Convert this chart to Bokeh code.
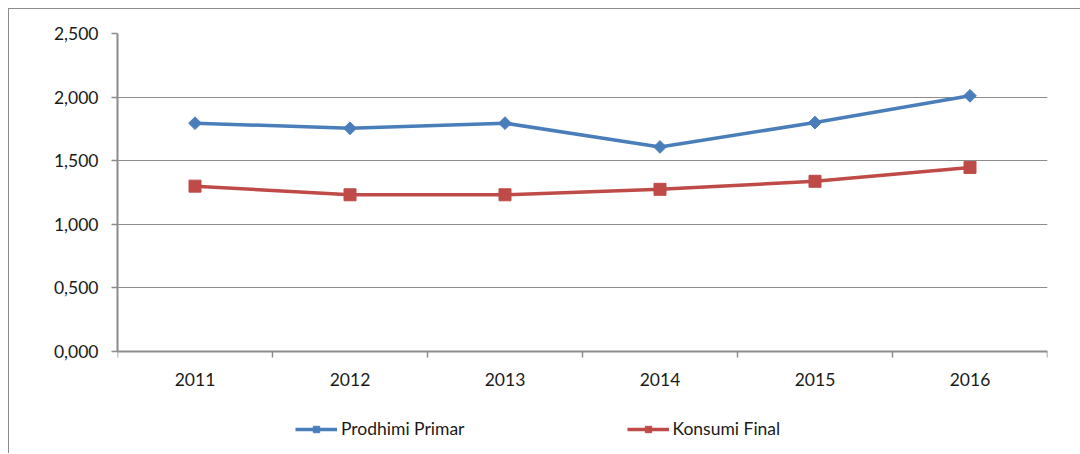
import numpy as np
from bokeh.plotting import figure
from bokeh.models import FixedTicker, Range1d, Legend, LegendItem
from bokeh.embed import file_html
from bokeh.resources import INLINE

years = ["2011", "2012", "2013", "2014", "2015", "2016"]
prodhimi_primar = [1795, 1755, 1795, 1608, 1800, 2010]
konsumi_final = [1300, 1232, 1232, 1275, 1338, 1447]
y_ticks = [0, 500, 1000, 1500, 2000, 2500]
y_tick_labels = ["0,000", "0,500", "1,000", "1,500", "2,000", "2,500"]

BLUE = "#4A7EBB"
RED = "#BE4B48"
GRID = "#8C8C8C"
FONT = "Lato"
FS = "17.5px"

xs = [i + 0.5 for i in range(len(years))]

# plot area: 318 px for the 0..2500 band, plus 100 px below it for the category labels and legend
PLOT_PX = 318
BELOW_PX = 100
y_top = 2500
y_bottom = -y_top * BELOW_PX / PLOT_PX

p = figure(frame_width=930, frame_height=PLOT_PX + BELOW_PX, output_backend="svg",
           toolbar_location=None,
           x_range=Range1d(0, len(years)), y_range=Range1d(y_bottom, y_top),
           min_border_left=108, min_border_right=33, min_border_top=24, min_border_bottom=2)
p.styles = {"margin-left": "8px", "margin-top": "8px",
            "border-left": "1px solid #8C8C8C", "border-top": "1px solid #8C8C8C"}
p.outline_line_color = None
p.background_fill_color = "white"
p.border_fill_color = "white"

# x axis sits on the zero line
p.xaxis.fixed_location = 0
p.xaxis.ticker = FixedTicker(ticks=xs, minor_ticks=list(range(len(years) + 1)))
p.xaxis.major_label_overrides = {x: y for x, y in zip(xs, years)}
p.xaxis.major_tick_out = 0
p.xaxis.major_tick_in = 0
p.xaxis.minor_tick_out = 6
p.xaxis.minor_tick_in = 0
p.xaxis.minor_tick_line_color = GRID
p.xaxis.minor_tick_line_width = 1.5
p.xaxis.axis_line_color = GRID
p.xaxis.axis_line_width = 2
p.xaxis.major_label_standoff = 15
p.xaxis.major_label_text_font = FONT
p.xaxis.major_label_text_font_size = FS
p.xaxis.major_label_text_color = "#1a1a1a"

p.yaxis.bounds = (0, y_top)
p.yaxis.ticker = FixedTicker(ticks=y_ticks, minor_ticks=[])
p.yaxis.major_label_overrides = {t: l for t, l in zip(y_ticks, y_tick_labels)}
p.yaxis.major_tick_out = 6
p.yaxis.major_tick_in = 0
p.yaxis.major_tick_line_color = GRID
p.yaxis.major_tick_line_width = 1.5
p.yaxis.axis_line_color = GRID
p.yaxis.axis_line_width = 2
p.yaxis.major_label_standoff = 13
p.yaxis.major_label_text_font = FONT
p.yaxis.major_label_text_font_size = FS
p.yaxis.major_label_text_color = "#1a1a1a"

p.xgrid.grid_line_color = None
p.ygrid.ticker = FixedTicker(ticks=y_ticks)
p.ygrid.grid_line_color = GRID
p.ygrid.grid_line_width = 1.2

# series
l1 = p.line(xs, prodhimi_primar, line_color=BLUE, line_width=3.5)
m1 = p.scatter(xs, prodhimi_primar, marker="square", size=9, angle=np.pi / 4,
               fill_color=BLUE, line_color=BLUE)
l2 = p.line(xs, konsumi_final, line_color=RED, line_width=3.5)
m2 = p.scatter(xs, konsumi_final, marker="square", size=12,
               fill_color=RED, line_color=RED)

legend = Legend(items=[LegendItem(label="Prodhimi Primar", renderers=[l1, m1]),
                       LegendItem(label="Konsumi Final", renderers=[l2, m2])],
                orientation="horizontal", location=(178, 12),
                glyph_width=42, glyph_height=16, label_standoff=4, spacing=162,
                padding=0, margin=0, border_line_color=None,
                background_fill_alpha=0,
                label_text_font=FONT, label_text_font_size=FS,
                label_text_color="#1a1a1a")
p.add_layout(legend, "center")

open("out.html", "w").write(file_html(p, INLINE))
